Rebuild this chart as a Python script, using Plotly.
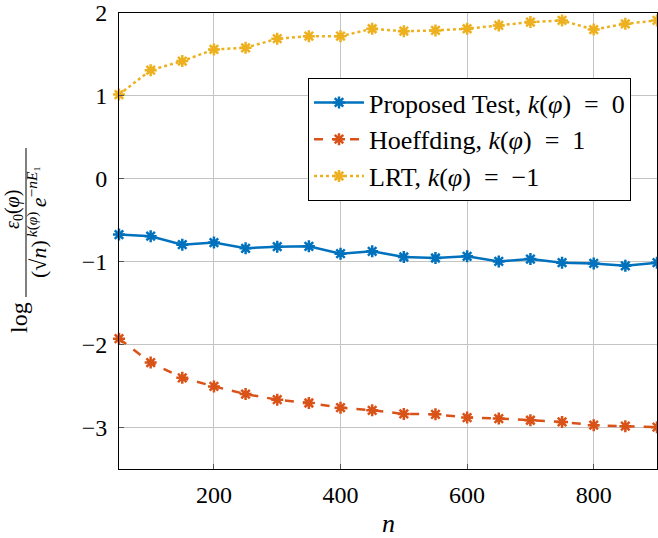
import plotly.graph_objects as go

n_vals = [50, 100, 150, 200, 250, 300, 350, 400, 450, 500, 550, 600, 650, 700, 750, 800, 850, 900]
proposed = [-0.672, -0.692, -0.794, -0.769, -0.838, -0.818, -0.814, -0.903, -0.874, -0.943,
            -0.955, -0.935, -0.996, -0.968, -1.012, -1.020, -1.049, -1.012]
hoeffding = [-1.928, -2.216, -2.400, -2.504, -2.596, -2.664, -2.704, -2.760, -2.792, -2.836,
             -2.840, -2.880, -2.892, -2.912, -2.932, -2.972, -2.984, -2.996]
lrt = [1.016, 1.31, 1.42, 1.56, 1.58, 1.69, 1.72, 1.72, 1.81, 1.78,
       1.79, 1.81, 1.85, 1.89, 1.91, 1.80, 1.87, 1.91]

names = ["Proposed Test, <i>k</i>(<i>φ</i>)\u2002=\u20020",
         "Hoeffding, <i>k</i>(<i>φ</i>)\u2002=\u20021",
         "LRT, <i>k</i>(<i>φ</i>)\u2002=\u2002−1"]
colors = ["#0072BD", "#D95319", "#EDB120"]
dashes = ["solid", "dash", "dot"]

x_ticks = [200, 400, 600, 800]
y_ticks = [-3, -2, -1, 0, 1, 2]
y_ticktext = ["−3", "−2", "−1", "0", "1", "2"]

W, H = 658, 538
L, R, T, B = 119, 1, 13, 69
pw, ph = W - L - R, H - T - B

def px(xp):
    return (xp - L) / pw

def py(yp):
    return 1 - (yp - T) / ph

FONT = "Liberation Serif, Times New Roman, serif"

fig = go.Figure()
for ys, name, c, d in zip([proposed, hoeffding, lrt], names, colors, dashes):
    fig.add_trace(go.Scatter(
        x=n_vals, y=ys, name=name, mode="lines+markers",
        line=dict(color=c, width=2.5, dash=d),
        marker=dict(symbol="asterisk-open", size=10, color=c, line=dict(color=c, width=2.5)),
        cliponaxis=False,
    ))

fig.update_layout(
    width=W, height=H,
    margin=dict(l=L, r=R, t=T, b=B, autoexpand=False),
    paper_bgcolor="white", plot_bgcolor="white",
    font=dict(family=FONT, size=24, color="black"),
    showlegend=True,
    legend=dict(
        x=px(308), y=py(78), xanchor="left", yanchor="top",
        bgcolor="white", bordercolor="black", borderwidth=1,
        font=dict(family=FONT, size=26, color="black"),
        tracegroupgap=0, itemwidth=50,
    ),
)

fig.update_xaxes(
    range=[50, 900], tickvals=x_ticks, automargin=False,
    showgrid=True, gridcolor="#c4c4c4", gridwidth=1,
    showline=True, linecolor="black", linewidth=1, mirror=True,
    ticks="inside", ticklen=5, tickcolor="#555555",
    zeroline=False, ticklabelstandoff=4,
    tickfont=dict(family=FONT, size=24),
)
fig.update_yaxes(
    range=[-3.5, 2], tickvals=y_ticks, ticktext=y_ticktext, automargin=False,
    showgrid=True, gridcolor="#c4c4c4", gridwidth=1,
    showline=True, linecolor="black", linewidth=1, mirror=True,
    ticks="inside", ticklen=5, tickcolor="#555555",
    zeroline=False, ticklabelstandoff=6,
    tickfont=dict(family=FONT, size=24),
)

# x-axis title
fig.add_annotation(text="<i>n</i>", xref="paper", yref="paper", x=px(388), y=py(523),
                   showarrow=False, font=dict(family=FONT, size=26),
                   xanchor="center", yanchor="middle")

# y-axis title as a fraction built from rotated annotations
fig.add_annotation(text="log", xref="paper", yref="paper", x=px(19), y=py(318),
                   showarrow=False, textangle=-90, font=dict(family=FONT, size=24),
                   xanchor="center", yanchor="middle")
fig.add_annotation(text="<i>ε</i><sub>0</sub>(<i>φ</i>)", xref="paper", yref="paper", x=px(13), y=py(210),
                   showarrow=False, textangle=-90, font=dict(family=FONT, size=20),
                   xanchor="center", yanchor="middle")
fig.add_annotation(text="(√<i>n</i>)<sup>\u2009<i>k</i>(<i>φ</i>)</sup>\u2009<i>e</i><sup>−<i>nE</i>₁</sup>",
                   xref="paper", yref="paper", x=px(37), y=py(222),
                   showarrow=False, textangle=-90, font=dict(family=FONT, size=22),
                   xanchor="center", yanchor="middle")
fig.add_shape(type="line", xref="paper", yref="paper",
              x0=px(26), x1=px(26), y0=py(148), y1=py(297),
              line=dict(color="black", width=1))

fig.write_html("out.html", config={"displayModeBar": False},
               post_script="document.body.style.margin='0px';document.body.style.overflow='hidden';")
